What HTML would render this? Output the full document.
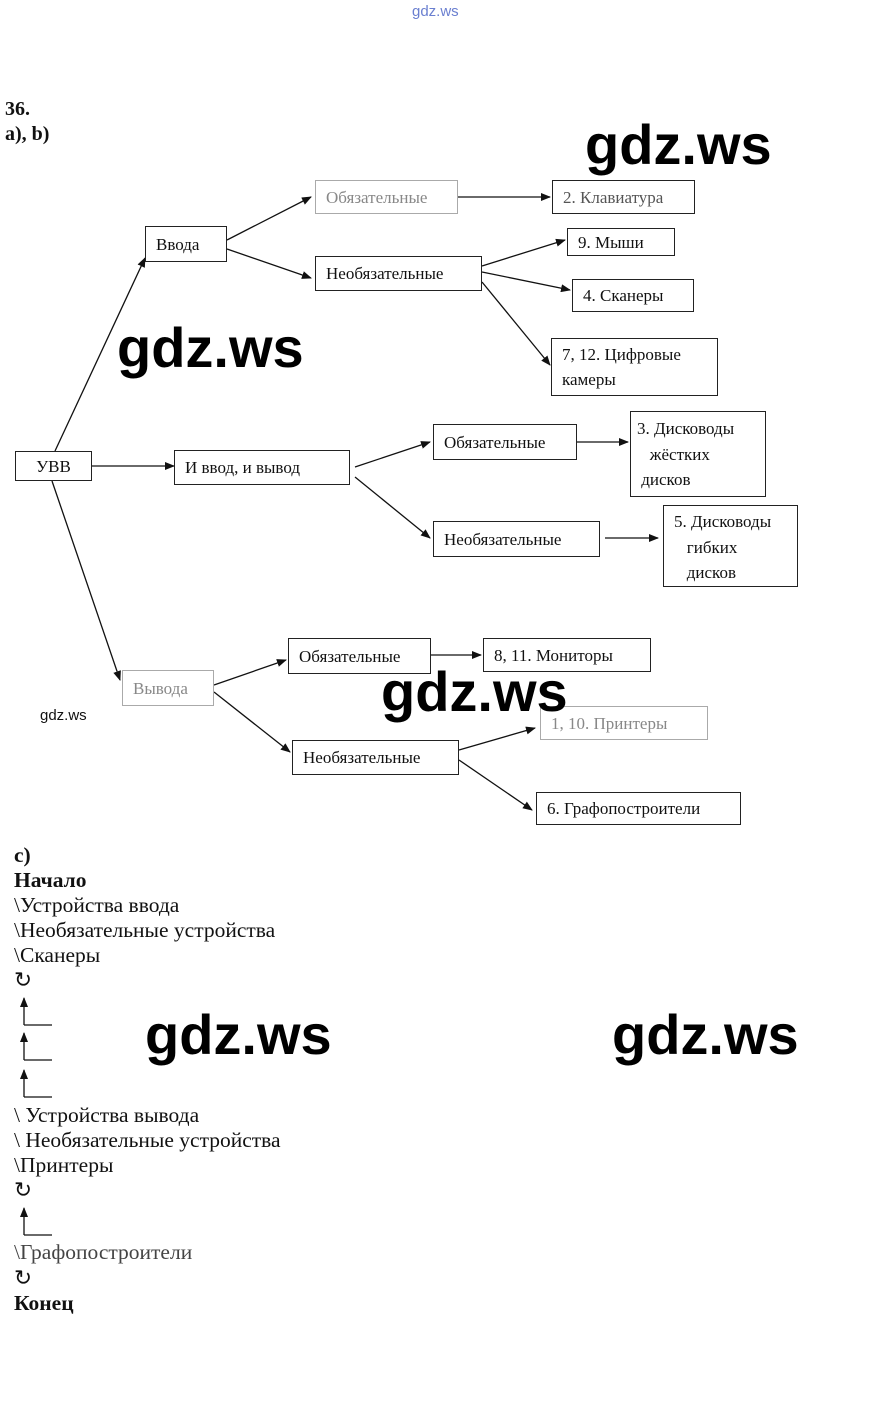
<!DOCTYPE html>
<html><head><meta charset="utf-8"><style>
body{margin:0;width:877px;height:1418px;background:#fff;position:relative;overflow:hidden;font-family:"Liberation Serif",serif;color:#111}
.b{position:absolute;border:1.3px solid #222;box-sizing:border-box;font-size:17px;padding:0 10px;display:flex;align-items:center;line-height:25px}
.t{position:absolute;font-size:21.5px;white-space:nowrap;line-height:25px}
.w{position:absolute;font-family:"Liberation Sans",sans-serif;font-weight:bold;font-size:56px;color:#000;letter-spacing:0;line-height:1}
.g{color:#888;border-color:#aaa}
</style></head><body>
<div style="position:absolute;left:412px;top:3px;font-family:'Liberation Sans',sans-serif;font-size:15px;color:#6a7fd0">gdz.ws</div>
<div class="t" style="left:5px;top:97px;font-weight:bold;font-size:20px">36.</div>
<div class="t" style="left:5px;top:122px;font-weight:bold;font-size:20px">a), b)</div>

<svg width="877" height="1418" style="position:absolute;left:0;top:0">
<defs><marker id="a" markerWidth="10" markerHeight="8" refX="9" refY="4" orient="auto" markerUnits="userSpaceOnUse"><path d="M0,0L10,4L0,8z" fill="#111"/></marker></defs>
<g stroke="#111" stroke-width="1.3" marker-end="url(#a)">
<line x1="55" y1="451" x2="145" y2="258"/>
<line x1="92" y1="466" x2="174" y2="466"/>
<line x1="52" y1="481" x2="120" y2="680"/>
<line x1="227" y1="240" x2="311" y2="197"/>
<line x1="227" y1="249" x2="311" y2="278"/>
<line x1="458" y1="197" x2="550" y2="197"/>
<line x1="482" y1="266" x2="565" y2="240"/>
<line x1="482" y1="272" x2="570" y2="290"/>
<line x1="482" y1="282" x2="550" y2="365"/>
<line x1="355" y1="467" x2="430" y2="442"/>
<line x1="355" y1="477" x2="430" y2="538"/>
<line x1="577" y1="442" x2="628" y2="442"/>
<line x1="605" y1="538" x2="658" y2="538"/>
<line x1="214" y1="685" x2="286" y2="660"/>
<line x1="214" y1="692" x2="290" y2="752"/>
<line x1="431" y1="655" x2="481" y2="655"/>
<line x1="459" y1="750" x2="535" y2="728"/>
<line x1="459" y1="760" x2="532" y2="810"/>
<line x1="24" y1="1025" x2="24" y2="998"/>
<line x1="24" y1="1060" x2="24" y2="1033"/>
<line x1="24" y1="1097" x2="24" y2="1070"/>
<line x1="24" y1="1235" x2="24" y2="1208"/>
</g>
<g stroke="#111" stroke-width="1.3">
<line x1="24" y1="1025" x2="52" y2="1025"/>
<line x1="24" y1="1060" x2="52" y2="1060"/>
<line x1="24" y1="1097" x2="52" y2="1097"/>
<line x1="24" y1="1235" x2="52" y2="1235"/>
</g>
</svg>

<div class="b g" style="left:315px;top:180px;width:143px;height:34px">Обязательные</div>
<div class="b" style="left:552px;top:180px;width:143px;height:34px;color:#555">2. Клавиатура</div>
<div class="b" style="left:145px;top:226px;width:82px;height:36px">Ввода</div>
<div class="b" style="left:567px;top:228px;width:108px;height:28px">9. Мыши</div>
<div class="b" style="left:315px;top:256px;width:167px;height:35px">Необязательные</div>
<div class="b" style="left:572px;top:279px;width:122px;height:33px">4. Сканеры</div>
<div class="b" style="left:551px;top:338px;width:167px;height:58px">7, 12. Цифровые камеры</div>
<div class="b" style="left:15px;top:451px;width:77px;height:30px;justify-content:center">УВВ</div>
<div class="b" style="left:174px;top:450px;width:176px;height:35px">И ввод, и вывод</div>
<div class="b" style="left:433px;top:424px;width:144px;height:36px">Обязательные</div>
<div class="b" style="left:630px;top:411px;width:136px;height:86px;padding:0 6px;display:block;line-height:25.5px;padding-top:4px">3. Дисководы<br>&nbsp;&nbsp;&nbsp;жёстких<br>&nbsp;дисков</div>
<div class="b" style="left:433px;top:521px;width:167px;height:36px">Необязательные</div>
<div class="b" style="left:663px;top:505px;width:135px;height:82px;padding:0 10px;display:block;line-height:25.5px;padding-top:3px">5. Дисководы<br>&nbsp;&nbsp;&nbsp;гибких<br>&nbsp;&nbsp;&nbsp;дисков</div>
<div class="b" style="left:288px;top:638px;width:143px;height:36px">Обязательные</div>
<div class="b" style="left:483px;top:638px;width:168px;height:34px">8, 11. Мониторы</div>
<div class="b g" style="left:122px;top:670px;width:92px;height:36px">Вывода</div>
<div class="b g" style="left:540px;top:706px;width:168px;height:34px">1, 10. Принтеры</div>
<div class="b" style="left:292px;top:740px;width:167px;height:35px">Необязательные</div>
<div class="b" style="left:536px;top:792px;width:205px;height:33px">6. Графопостроители</div>

<div class="w" style="left:585px;top:117px">gdz.ws</div>
<div class="w" style="left:117px;top:320px">gdz.ws</div>
<div class="w" style="left:381px;top:664px">gdz.ws</div>
<div class="w" style="left:145px;top:1007px">gdz.ws</div>
<div class="w" style="left:612px;top:1007px">gdz.ws</div>
<div style="position:absolute;left:40px;top:707px;font-family:'Liberation Sans',sans-serif;font-size:15px">gdz.ws</div>

<div class="t" style="left:14px;top:843px;font-weight:bold">c)</div>
<div class="t" style="left:14px;top:868px;font-weight:bold">Начало</div>
<div class="t" style="left:14px;top:893px">\Устройства ввода</div>
<div class="t" style="left:14px;top:918px">\Необязательные устройства</div>
<div class="t" style="left:14px;top:943px">\Сканеры</div>
<div class="t" style="left:14px;top:968px">↻</div>
<div class="t" style="left:14px;top:1103px">\ Устройства вывода</div>
<div class="t" style="left:14px;top:1128px">\ Необязательные устройства</div>
<div class="t" style="left:14px;top:1153px">\Принтеры</div>
<div class="t" style="left:14px;top:1178px">↻</div>
<div class="t" style="left:14px;top:1240px;color:#444">\Графопостроители</div>
<div class="t" style="left:14px;top:1266px">↻</div>
<div class="t" style="left:14px;top:1291px;font-weight:bold">Конец</div>
</body></html>
